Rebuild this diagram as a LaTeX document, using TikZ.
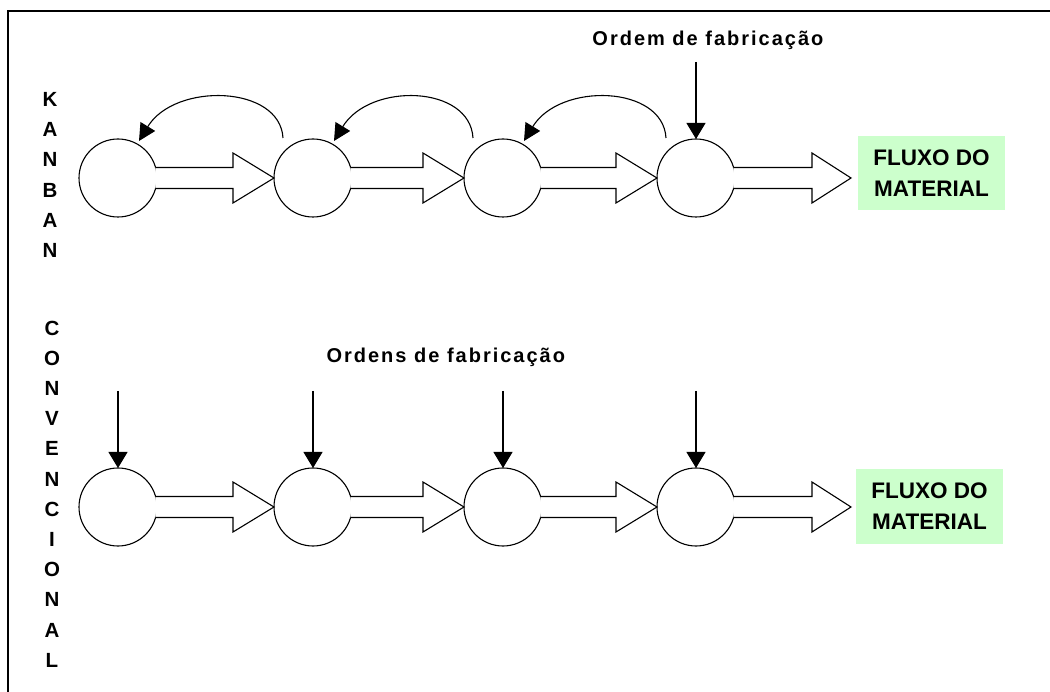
\documentclass[tikz,border=0pt]{standalone}
\usepackage{fontspec}
\setmainfont{Liberation Sans}
\usetikzlibrary{calc,arrows.meta}
\definecolor{flowgreen}{HTML}{CCFFCC}

% hollow block arrow from a station to a target point
\newcommand\flowarrow[3]{%
  \draw[fill=white] ($(#1.center)+(37.3,-10.5)$) -- ($(#2)+(-#3,-10.5)$)
    -- ($(#2)+(-#3,-25)$) -- (#2) -- ($(#2)+(-#3,25)$)
    -- ($(#2)+(-#3,10.5)$) -- ($(#1.center)+(37.3,10.5)$);}

% kanban signal: curved arrow from station #1 back to station #2
\newcommand\kanbanloop[2]{%
  \draw[signal] ($(#1.center)+(-30,-40)$)
    .. controls ($(#1.center)+(-33,-93)$) and ($(#2.center)+(57,-96)$)
    .. ($(#2.center)+(21,-37)$);}

\begin{document}
\begin{tikzpicture}[x=1pt,y=-1pt,line width=1.1pt,
  station/.style={circle,draw,minimum size=78pt,inner sep=0pt,outer sep=0pt,fill=white},
  flowbox/.style={fill=flowgreen,minimum width=147pt,minimum height=74pt,inner sep=0pt,
    align=center,font=\bfseries\fontsize{22.5}{31}\selectfont},
  order/.style={-{Triangle[length=16pt,width=19pt]}},
  signal/.style={-{Triangle[length=17pt,width=17pt]}},
  vlabel/.style={align=center,inner sep=0pt,font=\bfseries\fontsize{20.5}{30.2}\selectfont},
  ordertext/.style={inner sep=0pt,
    font=\bfseries\fontsize{20}{22}\selectfont\addfontfeatures{LetterSpace=10}}]
\useasboundingbox (0,0) rectangle (1050,692);

% frame
\draw[line width=1.4pt] (8,692) -- (8,11) -- (1050,11);

% side labels
\node[vlabel] (kanbanlbl) at (50,175) {K\\A\\N\\B\\A\\N};
\node[vlabel] (convlbl) at (52,494) {C\\O\\N\\V\\E\\N\\C\\I\\O\\N\\A\\L};

% kanban row
\node[station] (c1) at (118,178) {};
\node[station] (c2) at (313,178) {};
\node[station] (c3) at (503,178) {};
\node[station] (c4) at (696,178) {};
\coordinate (ktip) at (851,178);
\flowarrow{c1}{c2.west}{41}
\flowarrow{c2}{c3.west}{41}
\flowarrow{c3}{c4.west}{41}
\flowarrow{c4}{ktip}{39}
\node[flowbox] (kflow) at (931.5,173) {FLUXO DO\\MATERIAL};

\kanbanloop{c2}{c1}
\kanbanloop{c3}{c2}
\kanbanloop{c4}{c3}

\node[ordertext,anchor=base east] (kordtxt) at (824,46) {Ordem de fabricação};
\coordinate (kord) at (696,62);
\draw[order] (kord) -- (c4.north);

% conventional row
\node[station] (d1) at (118,507) {};
\node[station] (d2) at (313,507) {};
\node[station] (d3) at (503,507) {};
\node[station] (d4) at (696,507) {};
\coordinate (ctip) at (851,507);
\flowarrow{d1}{d2.west}{41}
\flowarrow{d2}{d3.west}{41}
\flowarrow{d3}{d4.west}{41}
\flowarrow{d4}{ctip}{39}
\node[flowbox] (cflow) at (929.5,506.5) {FLUXO DO\\MATERIAL};

\node[ordertext,anchor=base west] (cordtxt) at (326,363) {Ordens de fabricação};
\coordinate (o1) at (118,391);
\coordinate (o2) at (313,391);
\coordinate (o3) at (503,391);
\coordinate (o4) at (696,391);
\draw[order] (o1) -- (d1.north);
\draw[order] (o2) -- (d2.north);
\draw[order] (o3) -- (d3.north);
\draw[order] (o4) -- (d4.north);
\end{tikzpicture}
\end{document}
